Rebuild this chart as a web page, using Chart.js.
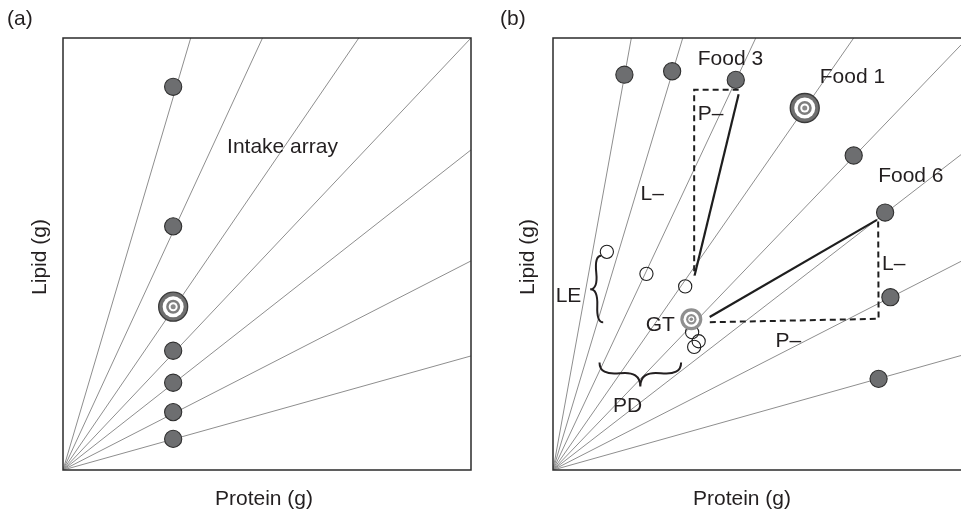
<!DOCTYPE html>
<html>
<head>
<meta charset="utf-8">
<script src="https://cdn.jsdelivr.net/npm/chart.js@4"></script>
<style>
  html, body { margin: 0; padding: 0; background: #fff; overflow: hidden; }
  .panel { position: absolute; top: 0; width: 480px; height: 516px; }
  #wrapA { left: 0; }
  #wrapB { left: 490px; }
</style>
</head>
<body>
<div class="panel" id="wrapA"><canvas id="chartA"></canvas></div>
<div class="panel" id="wrapB"><canvas id="chartB"></canvas></div>
<script>
// ---- panel (a) ----
const raysA = [[31.3, 100], [48.9, 100], [72.5, 100], [100, 100], [100, 74.1], [100, 48.4], [100, 26.4]];
const foodProteinA = [27, 27, 27, 27, 27, 27];
const foodLipidA = [88.7, 56.4, 27.6, 20.2, 13.4, 7.2];
const targetA = [27, 37.8];
const labelsA = [['Intake array', 53.8, 74.8]];

// ---- panel (b) ----
const raysB = [[19.2, 100], [31.8, 100], [49.7, 100], [73.7, 100], [100, 98.4], [100, 73.0], [100, 48.3], [100, 26.5]];
const foodProteinB = [17.5, 29.2, 44.8, 73.7, 81.4, 82.7, 79.8];
const foodLipidB = [91.5, 92.3, 90.3, 72.8, 59.6, 40.0, 21.1];
const food1B = [61.7, 83.8];
const intakeProteinB = [13.2, 22.9, 32.4, 34.1, 35.7, 34.6];
const intakeLipidB = [50.5, 45.4, 42.5, 31.9, 29.8, 28.5];
const targetB = [33.9, 34.9];
const food3Solid = [[45.5, 87.0], [34.7, 45.0]];
const food3Dashed = [[45.5, 88.0], [34.6, 88.0], [34.6, 45.0]];
const food6Solid = [[79.4, 57.9], [38.4, 35.4]];
const food6Dashed = [[79.7, 57.5], [79.8, 35.0], [38.1, 34.2]];
const bracesB = [[11.8, 49.6, 12.3, 34.2], [11.4, 24.9, 31.4, 24.9]];
const braceDepth = [12, 24];
const labelsB = [
  ['Food 3', 43.5, 95.1], ['Food 1', 73.4, 90.9], ['Food 6', 87.7, 68.1],
  ['P\u2013', 38.6, 82.3], ['L\u2013', 24.3, 63.9], ['L\u2013', 83.5, 47.7],
  ['P\u2013', 57.7, 29.8], ['LE', 3.8, 40.2], ['GT', 26.3, 33.6], ['PD', 18.3, 14.7]
];

const INK = '#231f20';
const FONT = '21px "Liberation Sans", Arial, sans-serif';
const RAY = '#8e8e8e';

const pts = (arr) => arr.map(([x, y]) => ({ x, y }));

function rayDatasets(rays) {
  return rays.map(([x, y]) => ({
    type: 'line', data: [{ x: 0, y: 0 }, { x, y }], showLine: true,
    borderColor: RAY, borderWidth: 1, pointRadius: 0, order: 20
  }));
}

function dotDataset(xs, ys, fill, stroke, r, order) {
  return {
    data: xs.map((x, i) => ({ x, y: ys[i] })),
    pointRadius: r, pointBackgroundColor: fill, pointBorderColor: stroke,
    pointBorderWidth: 1.1, order
  };
}

function targetDatasets(pt, radii, colors, edge) {
  return radii.map((r, i) => ({
    data: [{ x: pt[0], y: pt[1] }],
    pointRadius: r, pointBackgroundColor: colors[i],
    pointBorderColor: i === 0 && edge ? edge : colors[i],
    pointBorderWidth: i === 0 && edge ? 1.3 : 0,
    order: 2 - i * 0.1
  }));
}

function pathDataset(arr, color, width, dash) {
  return {
    type: 'line', data: pts(arr), showLine: true, borderColor: color,
    borderWidth: width, borderDash: dash || [], pointRadius: 0, order: 5
  };
}

function brace(ctx, x1, y1, x2, y2, w, q) {
  let dx = x1 - x2, dy = y1 - y2;
  const len = Math.hypot(dx, dy);
  dx /= len; dy /= len;
  const qx1 = x1 + q * w * dy, qy1 = y1 - q * w * dx;
  const qx2 = (x1 - 0.25 * len * dx) + (1 - q) * w * dy, qy2 = (y1 - 0.25 * len * dy) - (1 - q) * w * dx;
  const tx = (x1 - 0.5 * len * dx) + w * dy, ty = (y1 - 0.5 * len * dy) - w * dx;
  const qx3 = x2 + q * w * dy, qy3 = y2 - q * w * dx;
  const qx4 = (x1 - 0.75 * len * dx) + (1 - q) * w * dy, qy4 = (y1 - 0.75 * len * dy) - (1 - q) * w * dx;
  ctx.beginPath();
  ctx.moveTo(x1, y1);
  ctx.quadraticCurveTo(qx1, qy1, qx2, qy2);
  ctx.quadraticCurveTo(2 * qx2 - qx1, 2 * qy2 - qy1, tx, ty);
  ctx.moveTo(x2, y2);
  ctx.quadraticCurveTo(qx3, qy3, qx4, qy4);
  ctx.quadraticCurveTo(2 * qx4 - qx3, 2 * qy4 - qy3, tx, ty);
  ctx.stroke();
}

const decor = {
  id: 'decor',
  afterDatasetsDraw(chart, args, opts) {
    const { ctx, chartArea: a, scales: { x, y } } = chart;
    ctx.save();
    // frame (panel b is cut off on the right in the original)
    ctx.strokeStyle = '#2b2b2b';
    ctx.lineWidth = 1.5;
    ctx.beginPath();
    ctx.moveTo(a.right, a.top);
    ctx.lineTo(a.left, a.top);
    ctx.lineTo(a.left, a.bottom);
    ctx.lineTo(a.right, a.bottom);
    if (!opts.openRight) ctx.closePath();
    ctx.stroke();
    // braces
    ctx.strokeStyle = INK;
    ctx.lineWidth = 2;
    (opts.braces || []).forEach((b, i) => {
      brace(ctx, x.getPixelForValue(b[0]), y.getPixelForValue(b[1]),
        x.getPixelForValue(b[2]), y.getPixelForValue(b[3]), opts.depth[i], 0.55);
    });
    // labels
    ctx.fillStyle = INK;
    ctx.font = FONT;
    ctx.textAlign = 'center';
    ctx.textBaseline = 'middle';
    (opts.labels || []).forEach(([t, vx, vy]) => {
      ctx.fillText(t, x.getPixelForValue(vx), y.getPixelForValue(vy));
    });
    // axis titles and panel letter
    ctx.fillText('Protein (g)', opts.xTitle[0], opts.xTitle[1]);
    ctx.save();
    ctx.translate(opts.yTitle[0], opts.yTitle[1]);
    ctx.rotate(-Math.PI / 2);
    ctx.fillText('Lipid (g)', 0, 0);
    ctx.restore();
    ctx.textAlign = 'left';
    ctx.fillText(opts.letter, opts.letterPos[0], opts.letterPos[1]);
    ctx.restore();
  }
};

function baseOptions(decorOpts) {
  return {
    responsive: true,
    maintainAspectRatio: false,
    animation: false,
    events: [],
    layout: { autoPadding: false, padding: { left: 63, top: 38, right: 9, bottom: 46 } },
    scales: {
      x: { type: 'linear', min: 0, max: 100, display: false },
      y: { type: 'linear', min: 0, max: 100, display: false }
    },
    plugins: { legend: { display: false }, tooltip: { enabled: false }, decor: decorOpts }
  };
}

const bigRadii = [14.5, 10.5, 7, 4.5, 2.5];
const bigColors = ['#6f6f6f', '#ffffff', '#7d7d7d', '#ffffff', '#8a8a8a'];
const gtRadii = [11, 7.8, 5.2, 3, 1.8];
const gtColors = ['#8f8f8f', '#ffffff', '#8f8f8f', '#ffffff', '#8f8f8f'];

new Chart(document.getElementById('chartA'), {
  type: 'scatter',
  data: {
    datasets: [
      ...rayDatasets(raysA),
      dotDataset(foodProteinA, foodLipidA, '#6d6e70', '#2f2f2f', 8.6, 3),
      ...targetDatasets(targetA, bigRadii, bigColors, '#3a3a3a')
    ]
  },
  options: baseOptions({
    labels: labelsA, letter: '(a)', letterPos: [7, 19],
    xTitle: [264, 499], yTitle: [40, 257]
  }),
  plugins: [decor]
});

new Chart(document.getElementById('chartB'), {
  type: 'scatter',
  data: {
    datasets: [
      ...rayDatasets(raysB),
      pathDataset(food3Dashed, '#1e1e1e', 2, [6, 4]),
      pathDataset(food6Dashed, '#1e1e1e', 2, [6, 4]),
      pathDataset(food3Solid, '#1e1e1e', 2.2),
      pathDataset(food6Solid, '#1e1e1e', 2.2),
      dotDataset(foodProteinB, foodLipidB, '#6d6e70', '#2f2f2f', 8.6, 3),
      dotDataset(intakeProteinB, intakeLipidB, 'rgba(255,255,255,0)', '#1e1e1e', 6.6, 4),
      ...targetDatasets(food1B, bigRadii, bigColors, '#3a3a3a'),
      ...targetDatasets(targetB, gtRadii, gtColors, null)
    ]
  },
  options: baseOptions({
    labels: labelsB, braces: bracesB, depth: braceDepth, openRight: true,
    letter: '(b)', letterPos: [10, 19],
    xTitle: [252, 499], yTitle: [38, 257]
  }),
  plugins: [decor]
});
</script>
</body>
</html>
